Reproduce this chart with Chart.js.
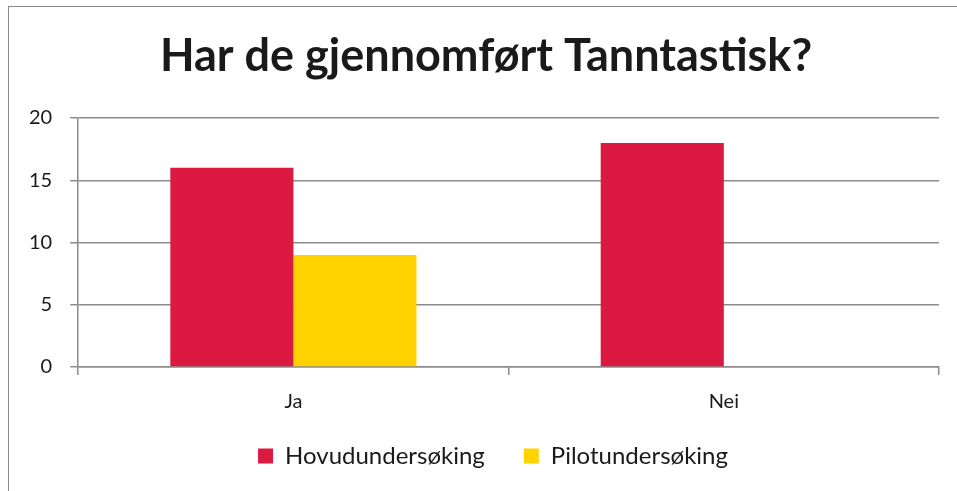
<!DOCTYPE html>
<html>
<head>
<meta charset="utf-8">
<script src="https://cdn.jsdelivr.net/npm/chart.js@4"></script>
<style>
  html, body { margin: 0; padding: 0; background: #fff; }
  #frame { position: absolute; left: 8px; top: 6px; width: 960px; height: 500px; border: 1px solid #8a8a8a; box-sizing: border-box; }
  #wrap { position: absolute; left: 0; top: 0; width: 957px; height: 491px; }
</style>
</head>
<body>
<div id="frame"></div>
<div id="wrap"><canvas id="chart"></canvas></div>
<script>
const categories = ["Ja", "Nei"];
const hovudundersoking = [16, 18];
const pilotundersoking = [9, null];
const yTicks = [0, 5, 10, 15, 20];

const gridColor = "#8c8c8c";
const textColor = "#1a1a1a";

// shift title and legend a little, like in the original
function moveBox(box, dx, top) {
  const w = box.right - box.left;
  const h = box.bottom - box.top;
  box.left += dx;
  box.right = box.left + w;
  if (top !== undefined) {
    box.top = top;
    box.bottom = top + h;
  }
}

const boxNudge = {
  id: "boxNudge",
  afterLayout(chart) {
    moveBox(chart.titleBlock, 11);
    moveBox(chart.legend, 18, 405);
  }
};

const ctx = document.getElementById("chart").getContext("2d");

new Chart(ctx, {
  type: "bar",
  data: {
    labels: categories,
    datasets: [
      {
        label: "Hovudundersøking",
        data: hovudundersoking,
        backgroundColor: "#dc1941",
        barPercentage: 1,
        categoryPercentage: 0.572
      },
      {
        label: "Pilotundersøking",
        data: pilotundersoking,
        backgroundColor: "#ffd200",
        barPercentage: 1,
        categoryPercentage: 0.572
      }
    ]
  },
  options: {
    responsive: true,
    maintainAspectRatio: false,
    animation: false,
    layout: { padding: { left: 11, right: 18, top: 6, bottom: -11 } },
    plugins: {
      title: {
        display: true,
        text: "Har de gjennomført Tanntastisk?",
        color: textColor,
        font: { family: "Lato", size: 45, weight: "bold" },
        padding: { top: 23, bottom: 35 }
      },
      legend: {
        position: "bottom",
        labels: {
          color: textColor,
          font: { family: "Lato", size: 24 },
          boxWidth: 15,
          boxHeight: 15,
          padding: 39
        }
      },
      tooltip: { enabled: false }
    },
    scales: {
      x: {
        grid: { display: true, drawOnChartArea: false, drawTicks: true, tickLength: 8, color: gridColor, lineWidth: 1.5 },
        border: { color: gridColor, width: 1.5 },
        ticks: { color: textColor, font: { family: "Lato", size: 20 }, padding: 15 }
      },
      y: {
        min: 0,
        max: 20,
        afterBuildTicks: (axis) => { axis.ticks = yTicks.map(v => ({ value: v })); },
        grid: { color: gridColor, lineWidth: 1.5, tickLength: 8 },
        border: { color: gridColor, width: 1.5 },
        ticks: { color: textColor, font: { family: "Lato", size: 20 }, padding: 18 }
      }
    }
  },
  plugins: [boxNudge]
});
</script>
</body>
</html>
